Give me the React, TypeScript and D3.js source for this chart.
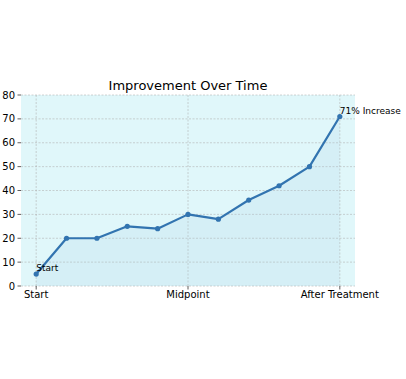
import React from "react";
import * as d3 from "d3";

const steps = [0, 1, 2, 3, 4, 5, 6, 7, 8, 9, 10];
const values = [5, 20, 20, 25, 24, 30, 28, 36, 42, 50, 71];
const xTickPos = [0, 5, 10];
const xTickLabels = ["Start", "Midpoint", "After Treatment"];
const yTicks = [0, 10, 20, 30, 40, 50, 60, 70, 80];
const title = "Improvement Over Time";
const startLabel = "Start";
const endLabel = "71% Increase";

export default function App() {
  const W = 406, H = 379;
  const left = 21, right = 355, top = 95, bottom = 286;
  const x = d3.scaleLinear().domain([-0.5, 10.5]).range([left, right]);
  const y = d3.scaleLinear().domain([0, 80]).range([bottom, top]);
  const pts: [number, number][] = steps.map((s, i) => [s, values[i]]);
  const line = d3.line<[number, number]>().x(d => x(d[0])).y(d => y(d[1]));
  const area = d3.area<[number, number]>().x(d => x(d[0])).y0(y(0)).y1(d => y(d[1]));
  const font = "DejaVu Sans, sans-serif";
  return (
    <svg width={W} height={H} style={{ position: "absolute", left: 0, top: 0 }} fontFamily={font}>
      <rect width={W} height={H} fill="#fff" />
      <rect x={left} y={top} width={right - left} height={bottom - top} fill="#e0f7fa" />
      {yTicks.map(t => (
        <line key={"gy" + t} x1={left} x2={right} y1={y(t)} y2={y(t)} stroke="#b0b0b0" strokeWidth={0.8} strokeDasharray="2,1.5" opacity={0.7} />
      ))}
      {xTickPos.map(t => (
        <line key={"gx" + t} x1={x(t)} x2={x(t)} y1={top} y2={bottom} stroke="#b0b0b0" strokeWidth={0.8} strokeDasharray="2,1.5" opacity={0.7} />
      ))}
      <path d={area(pts) || ""} fill="#a9cfe6" opacity={0.18} />
      <path d={line(pts) || ""} fill="none" stroke="#3274b0" strokeWidth={2.2} strokeLinejoin="round" />
      {pts.map((p, i) => (
        <circle key={i} cx={x(p[0])} cy={y(p[1])} r={2.6} fill="#3274b0" />
      ))}
      {yTicks.map(t => (
        <g key={"yt" + t}>
          <line x1={left - 3.5} x2={left} y1={y(t)} y2={y(t)} stroke="#333" strokeWidth={0.8} />
          <text x={left - 6} y={y(t)} dy="0.35em" textAnchor="end" fontSize={10} fill="#000">{t}</text>
        </g>
      ))}
      {xTickPos.map((t, i) => (
        <g key={"xt" + t}>
          <line x1={x(t)} x2={x(t)} y1={bottom} y2={bottom + 3.5} stroke="#333" strokeWidth={0.8} />
          <text x={x(t)} y={bottom + 11.5} textAnchor="middle" fontSize={10} fill="#000">{xTickLabels[i]}</text>
        </g>
      ))}
      <text x={x(0)} y={y(values[0]) - 3} fontSize={9} fill="#000">{startLabel}</text>
      <text x={x(10)} y={y(values[10]) - 2} fontSize={9} fill="#000">{endLabel}</text>
      <text x={(left + right) / 2} y={top - 5} textAnchor="middle" fontSize={13} fill="#000">{title}</text>
    </svg>
  );
}
